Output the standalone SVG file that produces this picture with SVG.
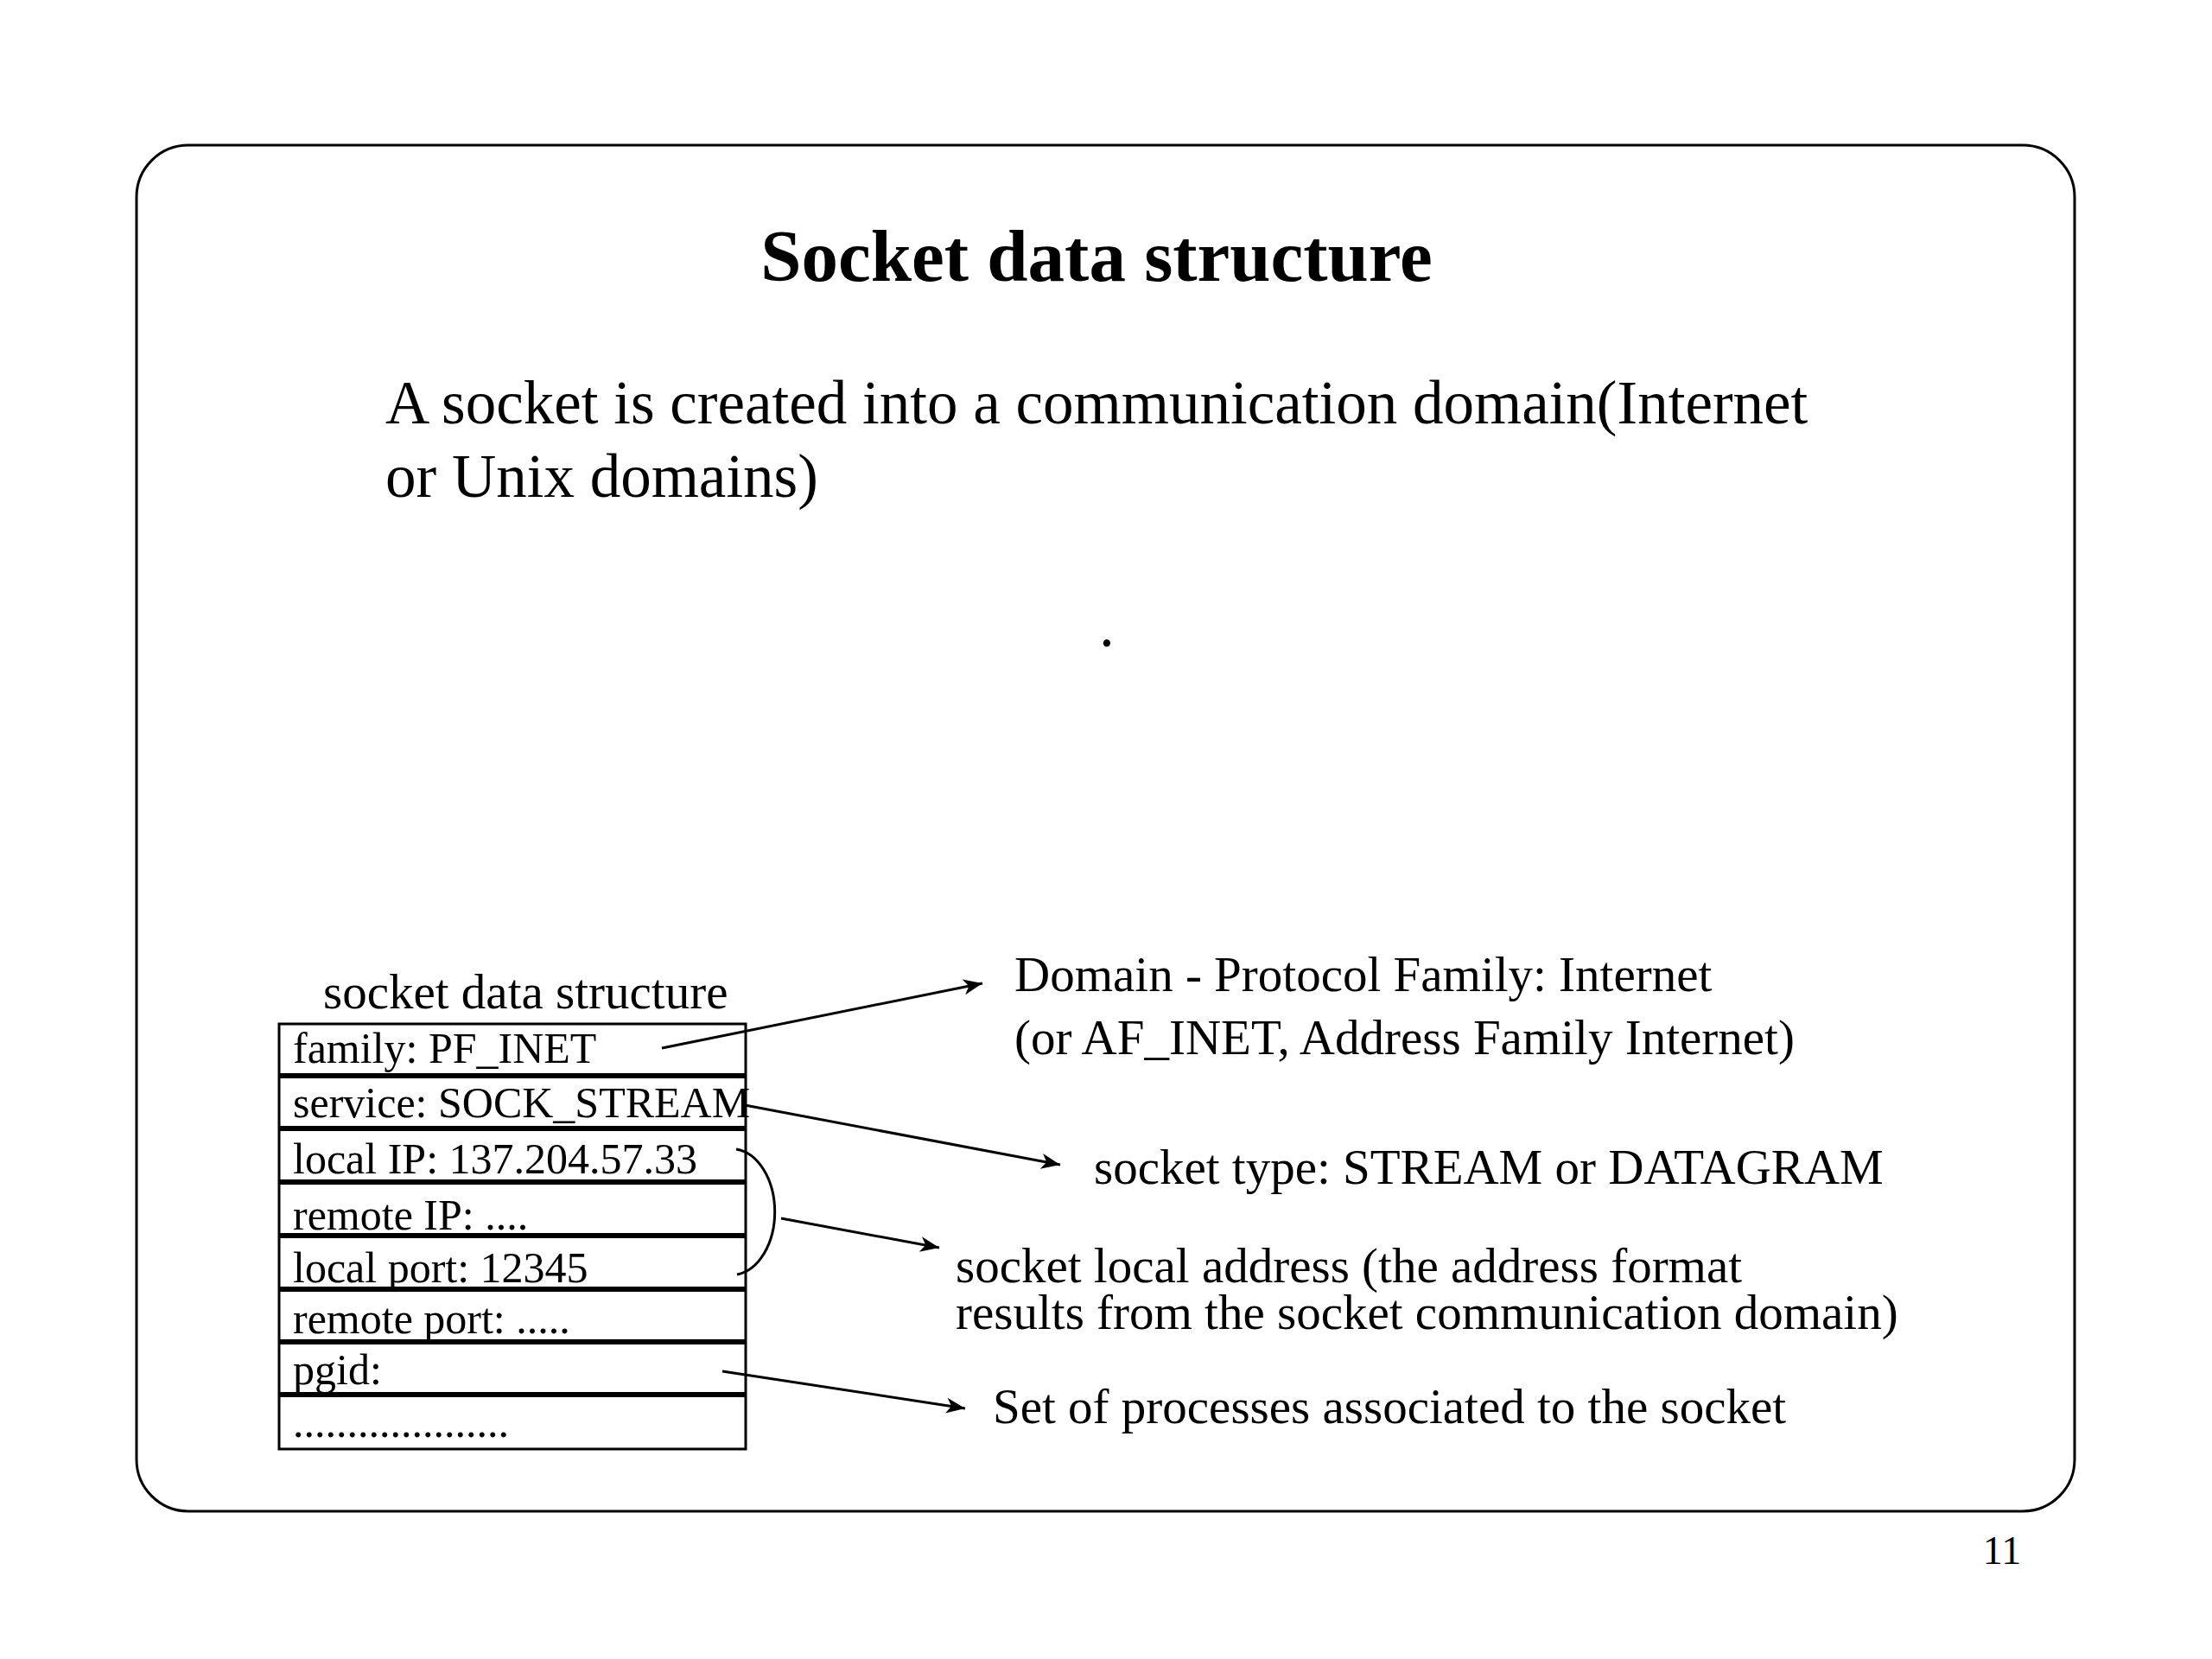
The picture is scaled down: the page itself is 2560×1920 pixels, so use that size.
<svg xmlns="http://www.w3.org/2000/svg" width="2560" height="1920" viewBox="0 0 2560 1920">
<style>
  text { font-family: "Liberation Serif", "Times New Roman", serif; fill: #000; }
  .title { font-size: 85px; font-weight: bold; }
  .body { font-size: 71px; }
  .row { font-size: 50px; }
  .note { font-size: 57px; }
  .pg { font-size: 46px; }
  .frame { fill: none; stroke: #000; stroke-width: 3; }
  .box { fill: none; stroke: #000; stroke-width: 3; }
  .sep { stroke: #000; stroke-width: 6; }
  .conn { fill: none; stroke: #000; stroke-width: 3; }
</style>
<defs>
  <marker id="arrow" markerUnits="userSpaceOnUse" markerWidth="30" markerHeight="24" refX="24" refY="12" orient="auto">
    <path d="M24,12 L2,3 L8,12 L2,21 Z" fill="#000"/>
  </marker>
</defs>
<rect width="2560" height="1920" fill="#fff"/>
<rect class="frame" x="158" y="168" width="2243" height="1581" rx="60" ry="60"/>
<text class="title" x="1269" y="325" text-anchor="middle">Socket data structure</text>
<text class="body" x="446" y="490">A socket is created into a communication domain(Internet</text>
<text class="body" x="446" y="575">or Unix domains)</text>
<text class="body" x="1272" y="748">.</text>

<g id="socket-struct">
  <text class="note" x="374" y="1167">socket data structure</text>
  <rect class="box" x="323" y="1185" width="540" height="492"/>
  <line class="sep" x1="323" y1="1245" x2="863" y2="1245"/>
  <line class="sep" x1="323" y1="1306" x2="863" y2="1306"/>
  <line class="sep" x1="323" y1="1368" x2="863" y2="1368"/>
  <line class="sep" x1="323" y1="1430" x2="863" y2="1430"/>
  <line class="sep" x1="323" y1="1492" x2="863" y2="1492"/>
  <line class="sep" x1="323" y1="1553" x2="863" y2="1553"/>
  <line class="sep" x1="323" y1="1614" x2="863" y2="1614"/>
  <text class="row" x="339" y="1230">family: PF_INET</text>
  <text class="row" x="339" y="1293">service: SOCK_STREAM</text>
  <text class="row" x="339" y="1358">local IP: 137.204.57.33</text>
  <text class="row" x="339" y="1423">remote IP: ....</text>
  <text class="row" x="339" y="1484">local port: 12345</text>
  <text class="row" x="339" y="1543">remote port: .....</text>
  <text class="row" x="339" y="1602">pgid:</text>
  <text class="row" x="339" y="1663">....................</text>
</g>

<g id="label-domain">
  <text class="note" x="1174" y="1147">Domain - Protocol Family: Internet</text>
  <text class="note" x="1174" y="1220">(or AF_INET, Address Family Internet)</text>
</g>
<g id="label-type">
  <text class="note" x="1266" y="1370">socket type: STREAM or DATAGRAM</text>
</g>
<g id="label-address">
  <text class="note" x="1106" y="1484">socket local address (the address format</text>
  <text class="note" x="1106" y="1538">results from the socket communication domain)</text>
</g>
<g id="label-pgid">
  <text class="note" x="1149" y="1647">Set of processes associated to the socket</text>
</g>

<g id="connectors">
  <line class="conn" x1="766" y1="1213" x2="1137" y2="1138" marker-end="url(#arrow)"/>
  <line class="conn" x1="862" y1="1279" x2="1227" y2="1348" marker-end="url(#arrow)"/>
  <path class="conn" d="M852,1330 A 50 73 0 0 1 853,1475"/>
  <line class="conn" x1="904" y1="1410" x2="1087" y2="1444" marker-end="url(#arrow)"/>
  <line class="conn" x1="836" y1="1587" x2="1117" y2="1630" marker-end="url(#arrow)"/>
</g>

<text class="pg" x="2317" y="1810" text-anchor="middle">11</text>
</svg>
